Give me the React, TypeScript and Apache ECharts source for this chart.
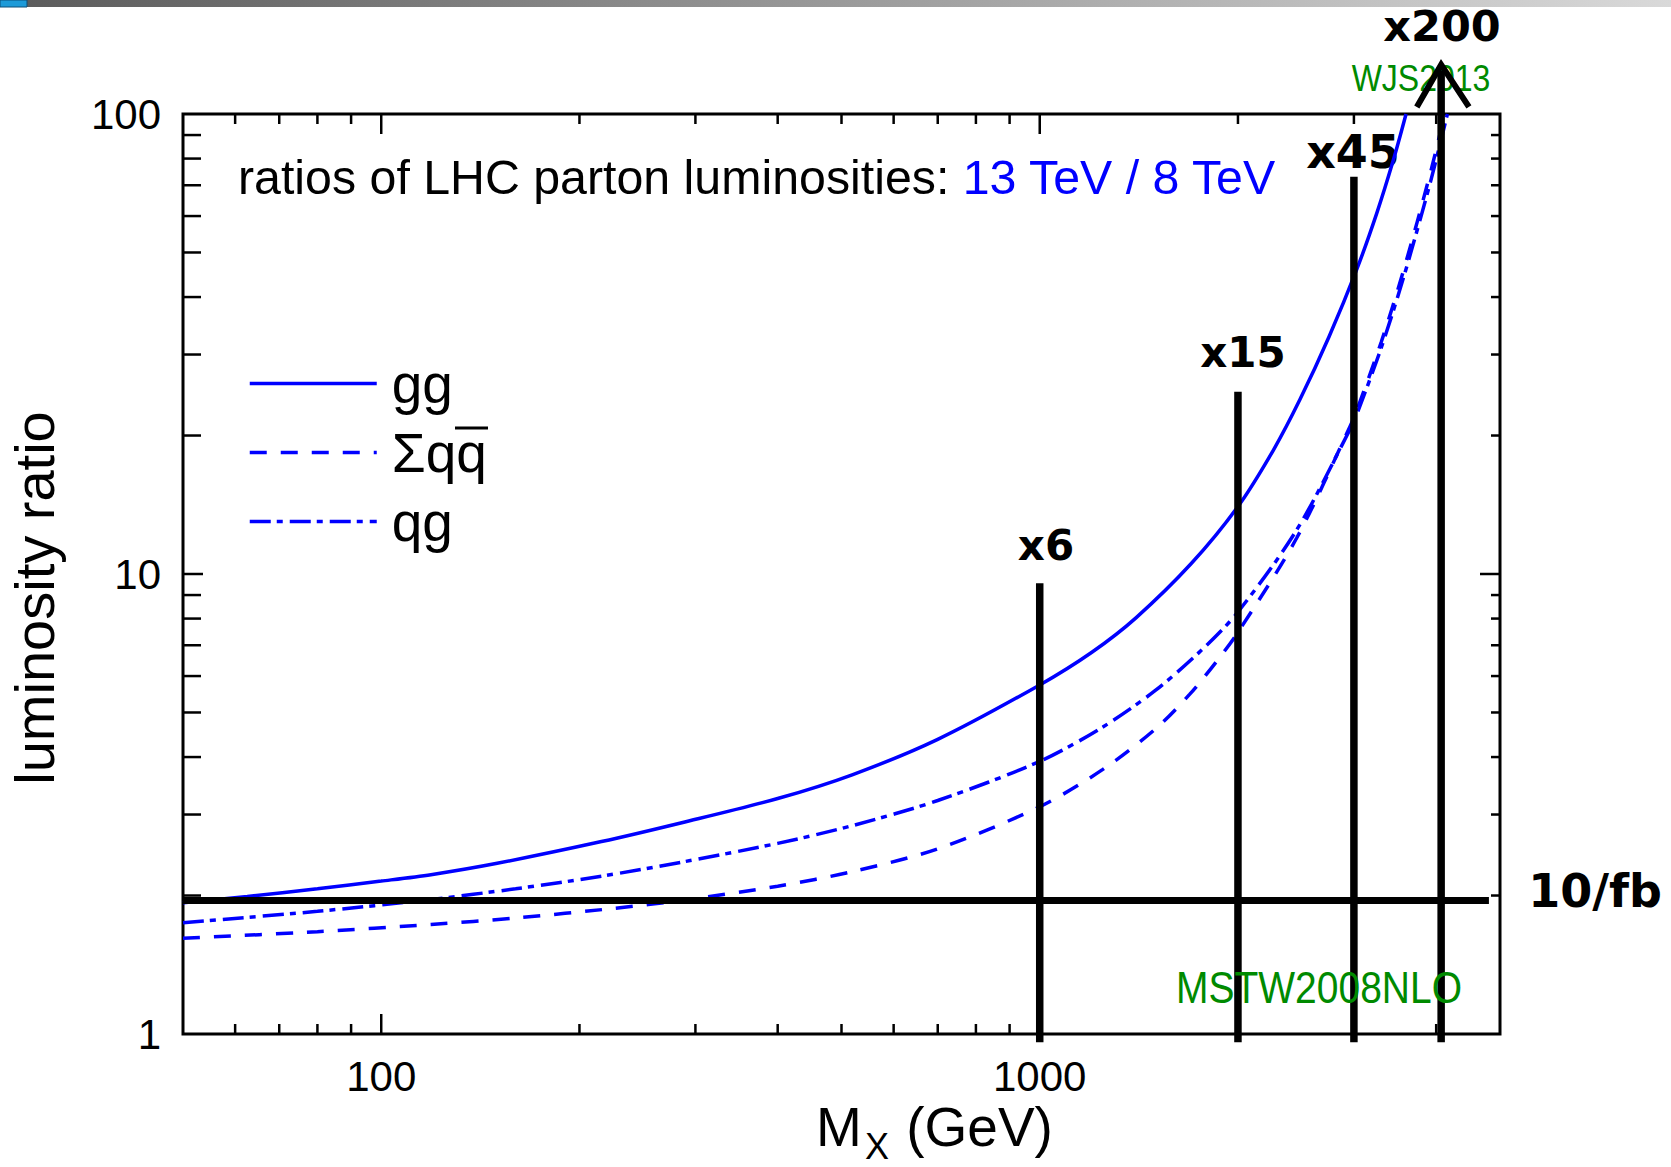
import React, { useEffect, useRef } from "react";
import * as echarts from "echarts";

// ---------- data ----------
const ggMass = [50, 62.6, 80, 100, 119, 150, 216, 286, 400, 519, 700, 1000, 1200, 1400, 1700, 2000, 2264, 2486, 2750, 3031, 3250, 3447, 3600];
const ggRatio = [1.93, 1.99, 2.07, 2.15, 2.22, 2.35, 2.62, 2.88, 3.25, 3.66, 4.37, 5.74, 6.76, 8.03, 10.55, 14.02, 18.6, 24.0, 32.8, 46.0, 60.9, 79.8, 100];

const qqMass = [50, 80, 119, 160, 226, 286, 400, 519, 700, 1000, 1247, 1500, 1690, 1855, 2000, 2457, 2963, 3031, 3300, 3570, 3921, 4120];
const qqRatio = [1.615, 1.669, 1.73, 1.787, 1.876, 1.952, 2.096, 2.254, 2.526, 3.12, 3.76, 4.61, 5.48, 6.45, 7.47, 11.99, 21.0, 22.7, 31.9, 45.8, 74.6, 100];

const qgMass = [50, 80, 119, 160, 216, 286, 400, 519, 700, 1000, 1247, 1500, 1770, 2000, 2457, 2963, 3031, 3300, 3570, 3921, 4160];
const qgRatio = [1.746, 1.848, 1.961, 2.069, 2.203, 2.364, 2.597, 2.837, 3.218, 3.915, 4.65, 5.59, 6.88, 8.27, 12.48, 20.7, 22.25, 31.0, 44.2, 71.2, 100];

const seriesNames = ["gg", "Σqq", "qg"];

// hand-drawn annotations
const markerMass = [1000, 2000, 3000, 4070];
const markerTop = [9.55, 24.9, 73, 124];
const markerBottom = 0.96;
const markerLabels = ["x6", "x15", "x45", "x200"];
const lumiMass = [50, 4810];
const lumiRatio = 1.95;
const lumiLabel = "10/fb";
const arrowMass = [3738, 4070, 4485];
const arrowRatio = [103.6, 128, 103.6];

// axes
const xTickLabels = ["100", "1000"];
const yTickLabels = ["1", "10", "100"];
const xMajorTicks = [100, 1000];
const xMinorTicks = [60, 70, 80, 90, 200, 300, 400, 500, 600, 700, 800, 900, 2000, 3000, 4000];
const yMajorTicks = [10];
const yMinorTicks = [2, 3, 4, 5, 6, 7, 8, 9, 20, 30, 40, 50, 60, 70, 80, 90];

const titleBlack = "ratios of LHC parton luminosities: ";
const titleBlue = "13 TeV / 8 TeV";
const pdfLabel = "MSTW2008NLO";
const authorLabel = "WJS2013";

const FONT = "'Liberation Sans', Arial, Helvetica, sans-serif";
const HAND = "'DejaVu Sans', sans-serif";
const BLUE = "#0000ff";
const GREEN = "#008a00";

const zip = (xs: number[], ys: number[]) => xs.map((x, i) => [x, ys[i]]);

export default function App() {
  const ref = useRef<HTMLDivElement>(null);

  useEffect(() => {
    document.body.style.margin = "0";
    document.body.style.overflow = "hidden";
    const chart = echarts.init(ref.current!, undefined, { renderer: "svg" });

    const curveStyle = (type: any) => ({ color: BLUE, width: 3.5, type });

    const handSeries: any[] = markerMass.map((m, i) => ({
      type: "line",
      name: "marker" + i,
      data: [[m, markerBottom], [m, markerTop[i]]],
      symbol: "none",
      clip: false,
      silent: true,
      z: 10,
      lineStyle: { color: "#000", width: 7.5, cap: "butt" },
    }));
    handSeries.push({
      type: "line",
      name: "lumi",
      data: lumiMass.map((m) => [m, lumiRatio]),
      symbol: "none",
      clip: false,
      silent: true,
      z: 10,
      lineStyle: { color: "#000", width: 7 },
    });
    handSeries.push({
      type: "line",
      name: "arrow",
      data: zip(arrowMass, arrowRatio),
      symbol: "none",
      clip: false,
      silent: true,
      z: 10,
      lineStyle: { color: "#000", width: 6, join: "miter" },
    });

    const xTickData = [
      ...xMajorTicks.map((v) => [v, 1]),
      ...xMinorTicks.map((v) => [v, 0]),
    ];
    const yTickData = [
      ...yMajorTicks.map((v) => [v, 1]),
      ...yMinorTicks.map((v) => [v, 0]),
    ];
    const tickStyle = { stroke: "#000", lineWidth: 2.5 };

    const curve = (name: string, xs: number[], ys: number[], type: any) => ({
      type: "line",
      name,
      data: zip(xs, ys),
      symbol: "none",
      smooth: 0.3,
      lineStyle: curveStyle(type),
      itemStyle: { color: BLUE },
      z: 3,
    });

    const option: any = {
      animation: false,
      backgroundColor: "#ffffff",
      grid: {
        left: 183,
        top: 114,
        width: 1317,
        height: 920,
        show: true,
        borderColor: "#000",
        borderWidth: 3,
        containLabel: false,
        outerBoundsMode: "none",
      },
      legend: {
        orient: "vertical",
        left: 248,
        top: 356,
        padding: 0,
        itemWidth: 127,
        itemHeight: 14,
        itemGap: 14,
        selectedMode: false,
        data: seriesNames,
        lineStyle: { width: 3.5 },
        itemStyle: { opacity: 0 },
        textStyle: {
          fontSize: 55,
          lineHeight: 55,
          fontFamily: FONT,
          color: "#000",
          padding: [0, 0, 0, 10],
        },
      },
      xAxis: {
        type: "log",
        logBase: 10,
        min: 50,
        max: 5000,
        axisLine: { show: false },
        axisTick: { show: false },
        splitLine: { show: false },
        axisLabel: {
          fontSize: 42,
          fontFamily: FONT,
          color: "#000",
          margin: 21,
          formatter: (v: number) => {
            const s = String(Math.round(v));
            return xTickLabels.includes(s) ? s : "";
          },
        },
        name: "{m|M}{s|X}{m| (GeV)}",
        nameLocation: "middle",
        nameGap: 65,
        nameMoveOverlap: false,
        nameTextStyle: {
          fontSize: 55,
          fontFamily: FONT,
          color: "#000",
          padding: [0, 0, 0, 186],
          rich: {
            m: { fontSize: 55, lineHeight: 55, fontFamily: FONT, color: "#000" },
            s: { fontSize: 36, lineHeight: 36, fontFamily: FONT, color: "#000", padding: [40, 2, 0, 3] },
          },
        },
      },
      yAxis: {
        type: "log",
        logBase: 10,
        min: 1,
        max: 100,
        axisLine: { show: false },
        axisTick: { show: false },
        splitLine: { show: false },
        axisLabel: {
          fontSize: 42,
          fontFamily: FONT,
          color: "#000",
          margin: 22,
          formatter: (v: number) => {
            const s = String(Math.round(v));
            return yTickLabels.includes(s) ? s : "";
          },
        },
        name: "luminosity ratio",
        nameLocation: "middle",
        nameGap: 121,
        nameMoveOverlap: false,
        nameTextStyle: {
          fontSize: 56,
          fontFamily: FONT,
          color: "#000",
          padding: [0, 48, 0, 0],
        },
      },
      series: [
        curve(seriesNames[0], ggMass, ggRatio, "solid"),
        curve(seriesNames[1], qqMass, qqRatio, [17, 14]),
        curve(seriesNames[2], qgMass, qgRatio, [21, 6, 6, 7]),
        ...handSeries,
        {
          type: "custom",
          name: "xticks",
          silent: true,
          clip: false,
          z: 6,
          encode: { x: 0, y: 0 },
          data: xTickData,
          renderItem: (params: any, api: any) => {
            const v = api.value(0);
            const major = api.value(1) === 1;
            const len = major ? 20 : 10;
            const b = api.coord([v, 1]);
            const t = api.coord([v, 100]);
            return {
              type: "group",
              children: [
                { type: "line", shape: { x1: b[0], y1: b[1], x2: b[0], y2: b[1] - len }, style: tickStyle },
                { type: "line", shape: { x1: t[0], y1: t[1], x2: t[0], y2: t[1] + len }, style: tickStyle },
              ],
            };
          },
        },
        {
          type: "custom",
          name: "yticks",
          silent: true,
          clip: false,
          z: 6,
          encode: { x: 0, y: 0 },
          data: yTickData,
          renderItem: (params: any, api: any) => {
            const v = api.value(0);
            const major = api.value(1) === 1;
            const l = api.coord([50, v]);
            const r = api.coord([5000, v]);
            const ll = major ? 20 : 18;
            const rl = major ? 20 : 9;
            return {
              type: "group",
              children: [
                { type: "line", shape: { x1: l[0], y1: l[1], x2: l[0] + ll, y2: l[1] }, style: tickStyle },
                { type: "line", shape: { x1: r[0], y1: r[1], x2: r[0] - rl, y2: r[1] }, style: tickStyle },
              ],
            };
          },
        },
      ],
      graphic: [
        {
          type: "rect",
          shape: { x: 0, y: 0, width: 1671, height: 7 },
          style: {
            fill: new echarts.graphic.LinearGradient(0, 0, 1, 0, [
              { offset: 0, color: "#5a5a5a" },
              { offset: 1, color: "#d9d9d9" },
            ]),
          },
          silent: true,
        },
        {
          type: "rect",
          shape: { x: 0, y: 0, width: 27, height: 7 },
          style: { fill: "#1d9ad8", stroke: "#0d4e78", lineWidth: 1 },
          silent: true,
        },
        {
          type: "text",
          x: 238,
          y: 177,
          style: {
            text: "{a|" + titleBlack + "}{b|" + titleBlue + "}",
            fontSize: 48.3,
            fontFamily: FONT,
            verticalAlign: "middle",
            align: "left",
            rich: {
              a: { fontSize: 48.3, fontFamily: FONT, fill: "#000" },
              b: { fontSize: 48.3, fontFamily: FONT, fill: BLUE },
            },
          },
        },
        {
          type: "text",
          x: 1421,
          y: 78,
          scaleY: 1.15,
          style: { text: authorLabel, fontSize: 32, fontFamily: FONT, fill: GREEN, align: "center", verticalAlign: "middle" },
        },
        {
          type: "text",
          x: 1319,
          y: 988,
          scaleY: 1.15,
          z: 20,
          style: { text: pdfLabel, fontSize: 39, fontFamily: FONT, fill: GREEN, align: "center", verticalAlign: "middle" },
        },
        {
          type: "line",
          shape: { x1: 455, y1: 428, x2: 488, y2: 428 },
          style: { stroke: "#000", lineWidth: 3 },
        },
        {
          type: "text",
          x: 1046,
          y: 545,
          style: { text: markerLabels[0], fontSize: 42, fontFamily: HAND, fontWeight: "bold", fill: "#000", align: "center", verticalAlign: "middle" },
        },
        {
          type: "text",
          x: 1243,
          y: 352,
          style: { text: markerLabels[1], fontSize: 42, fontFamily: HAND, fontWeight: "bold", fill: "#000", align: "center", verticalAlign: "middle" },
        },
        {
          type: "text",
          x: 1353,
          y: 152,
          style: { text: markerLabels[2], fontSize: 46, fontFamily: HAND, fontWeight: "bold", fill: "#000", align: "center", verticalAlign: "middle" },
        },
        {
          type: "text",
          x: 1442,
          y: 26,
          style: { text: markerLabels[3], fontSize: 43, fontFamily: HAND, fontWeight: "bold", fill: "#000", align: "center", verticalAlign: "middle" },
        },
        {
          type: "text",
          x: 1595,
          y: 891,
          style: { text: lumiLabel, fontSize: 46, fontFamily: HAND, fontWeight: "bold", fill: "#000", align: "center", verticalAlign: "middle" },
        },
      ],
    };

    chart.setOption(option);
    return () => chart.dispose();
  }, []);

  return (
    <div
      ref={ref}
      style={{ position: "absolute", left: 0, top: 0, width: 1671, height: 1167, background: "#fff" }}
    />
  );
}
